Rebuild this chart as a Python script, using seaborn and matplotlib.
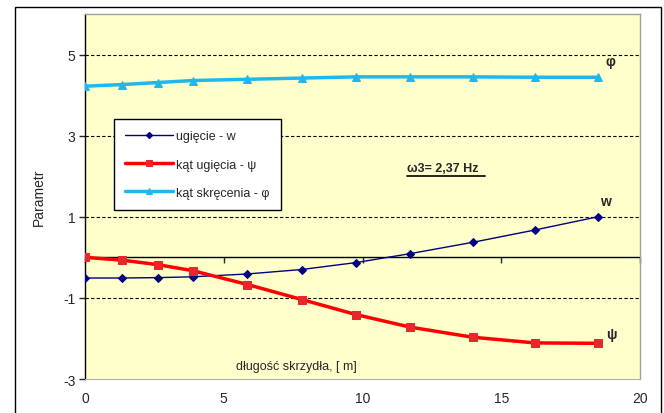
import pandas as pd
import matplotlib
matplotlib.use("Agg")
import matplotlib.pyplot as plt
import matplotlib.patches as patches
import seaborn as sns

# wing span positions [m]
span = [0, 1.34, 2.62, 3.89, 5.85, 7.81, 9.76, 11.71, 13.97, 16.22, 18.48]
# deflection w
w_vals = [-0.51, -0.51, -0.50, -0.48, -0.41, -0.30, -0.13, 0.09, 0.37, 0.675, 1.0]
# deflection angle psi
psi_vals = [0, -0.07, -0.18, -0.33, -0.67, -1.04, -1.41, -1.72, -1.97, -2.11, -2.12]
# twist angle phi
phi_vals = [4.22, 4.26, 4.31, 4.36, 4.39, 4.42, 4.45, 4.45, 4.45, 4.44, 4.44]

x_ticks = [0, 5, 10, 15, 20]
y_ticks = [-3, -1, 1, 3, 5]

df = pd.DataFrame({"x": span, "w": w_vals, "psi": psi_vals, "phi": phi_vals})

sns.set_style("white")
plt.rcParams["font.family"] = ["Liberation Sans", "DejaVu Sans"]
plt.rcParams["axes.unicode_minus"] = False

fig = plt.figure(figsize=(6.64, 4.14), dpi=100)
ax = fig.add_axes([85 / 664, 34 / 414, 555 / 664, 365 / 414])
ax.set_facecolor("#FFFFCC")

# dashed grid lines
for yv in [1, 3, 5, -1]:
    ax.axhline(yv, color="black", linestyle=(0, (3, 2)), linewidth=0.8, zorder=1)
ax.axhline(0, color="black", linewidth=1.0, zorder=1)

sns.lineplot(data=df, x="x", y="w", ax=ax, color="#000080", linewidth=1.0,
             marker="D", markersize=4, markeredgecolor="#000080",
             label="ugięcie - w", zorder=3)
sns.lineplot(data=df, x="x", y="psi", ax=ax, color="#FF0000", linewidth=2.5,
             marker="s", markersize=6, markerfacecolor="#E8262B",
             markeredgecolor="#E8262B", label="kąt ugięcia - ψ", zorder=3)
sns.lineplot(data=df, x="x", y="phi", ax=ax, color="#1EB8F0", linewidth=2.5,
             marker="^", markersize=6, markeredgecolor="#1EB8F0",
             label="kąt skręcenia - φ", zorder=3)

ax.set_xlim(0, 20)
ax.set_ylim(-3, 6)
ax.set_xticks(x_ticks)
ax.set_yticks(y_ticks)
ax.tick_params(axis="x", length=0, pad=9, labelsize=10)
ax.tick_params(axis="y", direction="out", length=4, width=1, pad=3, labelsize=10, left=True)

# tick marks on the zero line
sec = ax.secondary_xaxis(1 / 3)
sec.set_xticks(x_ticks)
sec.tick_params(direction="out", length=4, width=1, labelbottom=False)
sec.spines["bottom"].set_visible(False)

ax.spines["left"].set_color("black")
ax.spines["left"].set_linewidth(1.0)
for s in ["top", "right"]:
    ax.spines[s].set_color("#A0A0A0")
    ax.spines[s].set_linewidth(1.0)
ax.spines["bottom"].set_color("#B0B0B0")
ax.spines["bottom"].set_linestyle((0, (2, 1)))

ax.set_xlabel("")
ax.set_ylabel("Parametr", fontsize=10, labelpad=12)

ax.text(7.6, -2.67, "długość skrzydła, [ m]", fontsize=9, ha="center", va="center")
ax.text(11.6, 2.2, "ω3= 2,37 Hz", fontsize=9, fontweight="bold", ha="left", va="center")
ax.plot([11.6, 14.4], [2.0, 2.0], color="black", linewidth=1.2, zorder=2)
ax.text(18.95, 4.83, "φ", fontsize=10, fontweight="bold", ha="center", va="center")
ax.text(18.75, 1.4, "w", fontsize=10, fontweight="bold", ha="center", va="center")
ax.text(18.98, -1.89, "ψ", fontsize=10, fontweight="bold", ha="center", va="center")

leg = ax.legend(loc="upper left", bbox_to_anchor=(0.052, 0.712), frameon=True,
                fancybox=False, fontsize=9, labelspacing=1.3, handlelength=3.8,
                borderpad=0.9, handletextpad=0.3, borderaxespad=0, markerscale=0.8)
leg.get_frame().set_edgecolor("black")
leg.get_frame().set_linewidth(1.0)
leg.get_frame().set_facecolor("white")
leg.get_frame().set_alpha(1)

# outer chart frame
frame = patches.Rectangle((15 / 664, -0.05), 646 / 664, 1.05 - 8 / 414,
                          transform=fig.transFigure, fill=False,
                          edgecolor="black", linewidth=1.0, clip_on=False)
fig.patches.append(frame)

fig.savefig("out.png", dpi=100)
